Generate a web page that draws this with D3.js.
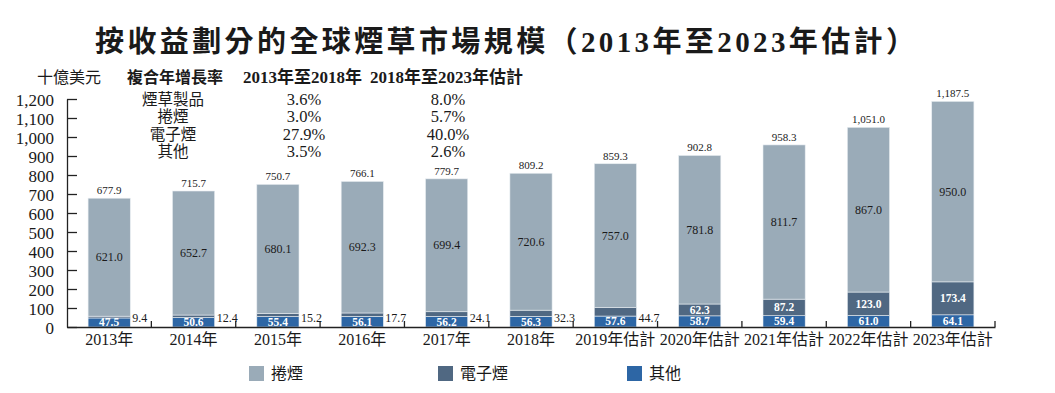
<!DOCTYPE html>
<html>
<head>
<meta charset="utf-8">
<script src="https://cdn.jsdelivr.net/npm/d3@7"></script>
<style>
  body { margin: 0; background: #fff; }
  text { font-family: "Liberation Serif", "Noto Sans CJK TC", serif; fill: #1a1a1a; }
</style>
</head>
<body>
<svg id="chart" width="1055" height="393"></svg>
<script>
// data
let years = ['2013年', '2014年', '2015年', '2016年', '2017年', '2018年',
             '2019年估計', '2020年估計', '2021年估計', '2022年估計', '2023年估計'];
let cigarettes = [621.0, 652.7, 680.1, 692.3, 699.4, 720.6, 757.0, 781.8, 811.7, 867.0, 950.0];
let ecig = [9.4, 12.4, 15.2, 17.7, 24.1, 32.3, 44.7, 62.3, 87.2, 123.0, 173.4];
let other = [47.5, 50.6, 55.4, 56.1, 56.2, 56.3, 57.6, 58.7, 59.4, 61.0, 64.1];
let totals = [677.9, 715.7, 750.7, 766.1, 779.7, 809.2, 859.3, 902.8, 958.3, 1051.0, 1187.5];
let yTicks = [0, 100, 200, 300, 400, 500, 600, 700, 800, 900, 1000, 1100, 1200];

let seriesNames = ['其他', '電子煙', '捲煙'];
let legendNames = ['捲煙', '電子煙', '其他'];
let colors = {'捲煙': '#9aabb8', '電子煙': '#506882', '其他': '#2d66a5'};

let cagrRows = ['煙草製品', '捲煙', '電子煙', '其他'];
let cagr1318 = ['3.6%', '3.0%', '27.9%', '3.5%'];
let cagr1823 = ['8.0%', '5.7%', '40.0%', '2.6%'];

let table = years.map(function(y, i) {
    return {year: y, '其他': other[i], '電子煙': ecig[i], '捲煙': cigarettes[i], total: totals[i]};
});

let svg = d3.select('#chart');
let plotLeft = 67, plotRight = 995, plotTop = 99, plotBottom = 327;

let x = d3.scaleBand().domain(years).range([plotLeft, plotRight]).paddingInner(0.5).paddingOuter(0.25);
let xb = d3.scaleBand().domain(years).range([plotLeft, plotRight]);
let y = d3.scaleLinear().domain([0, 1200]).range([plotBottom, plotTop]);

// title
svg.append('text')
    .attr('x', 95).attr('y', 52)
    .attr('textLength', 820).attr('lengthAdjust', 'spacing')
    .style('font-size', '29px').style('font-weight', 'bold')
    .text('按收益劃分的全球煙草市場規模（2013年至2023年估計）');

// y axis
let yAxis = d3.axisLeft(y).tickValues(yTicks).tickFormat(d3.format(',')).tickSizeInner(-10).tickSizeOuter(0).tickPadding(13);
let gy = svg.append('g').attr('transform', 'translate(' + plotLeft + ',0)').call(yAxis);
gy.selectAll('text').style('font-size', '17px').attr('dy', '0.36em');
gy.selectAll('line, path').attr('stroke', '#222').attr('stroke-width', 1.3);

svg.append('text').attr('x', 37).attr('y', 83).style('font-size', '16px').text('十億美元');

// CAGR table
svg.append('text').attr('x', 127).attr('y', 83).style('font-size', '16px').style('font-weight', 'bold').text('複合年增長率');
svg.append('text').attr('x', 243).attr('y', 83).style('font-size', '17px').style('font-weight', 'bold').text('2013年至2018年');
svg.append('text').attr('x', 370).attr('y', 83).style('font-size', '17px').style('font-weight', 'bold').text('2018年至2023年估計');
let rowY = d3.scalePoint().domain(cagrRows).range([105, 157]);
let tbl = svg.append('g').selectAll('g').data(cagrRows).enter().append('g');
tbl.append('text').attr('x', 173).attr('y', function(d) { return rowY(d); })
    .attr('text-anchor', 'middle').style('font-size', '15.5px').text(function(d) { return d; });
tbl.append('text').attr('x', 304).attr('y', function(d) { return rowY(d); })
    .attr('text-anchor', 'middle').style('font-size', '16.5px').text(function(d, i) { return cagr1318[i]; });
tbl.append('text').attr('x', 448).attr('y', function(d) { return rowY(d); })
    .attr('text-anchor', 'middle').style('font-size', '16.5px').text(function(d, i) { return cagr1823[i]; });

// bars
let stack = d3.stack().keys(seriesNames);
let layers = stack(table);
let fmt = d3.format(',.1f');

svg.append('g').selectAll('g').data(layers).enter().append('g')
    .attr('fill', function(d) { return colors[d.key]; })
    .selectAll('rect').data(function(d) { return d; }).enter().append('rect')
    .attr('x', function(d) { return x(d.data.year); })
    .attr('width', x.bandwidth())
    .attr('y', function(d) { return y(d[1]); })
    .attr('height', function(d) { return y(d[0]) - y(d[1]); })
    .attr('stroke', '#e8edf1').attr('stroke-width', 0.6);

// value labels
let labels = svg.append('g');
layers.forEach(function(layer) {
    layer.forEach(function(d) {
        let v = d.data[layer.key];
        let cx = x(d.data.year) + x.bandwidth() / 2;
        let h = y(d[0]) - y(d[1]);
        if (layer.key === '電子煙' && h < 10) {
            labels.append('text')
                .attr('x', x(d.data.year) + x.bandwidth() + 2)
                .attr('y', y(0) - 5)
                .style('font-size', '12px')
                .text(fmt(v));
        } else {
            let white = layer.key !== '捲煙';
            labels.append('text')
                .attr('x', cx).attr('y', (y(d[0]) + y(d[1])) / 2)
                .attr('dy', '0.34em')
                .attr('text-anchor', 'middle')
                .style('font-size', white ? '11.5px' : '12px')
                .style('font-weight', white ? 'bold' : 'normal')
                .style('fill', white ? '#fff' : '#1a1a1a')
                .text(fmt(v));
        }
    });
});
labels.selectAll(null).data(table).enter().append('text')
    .attr('x', function(d) { return x(d.year) + x.bandwidth() / 2; })
    .attr('y', function(d) { return y(d.total) - 4; })
    .attr('text-anchor', 'middle')
    .style('font-size', '11px')
    .text(function(d) { return fmt(d.total); });

// x axis
let xAxis = d3.axisBottom(xb).tickSize(0).tickPadding(6);
let gx = svg.append('g').attr('transform', 'translate(0,' + plotBottom + ')').call(xAxis);
gx.select('.domain').attr('stroke', '#222').attr('stroke-width', 1.3);
gx.selectAll('text').style('font-size', '16px').attr('dy', '0.75em');
gx.selectAll('.sep').data(years).enter().append('line')
    .attr('class', 'sep')
    .attr('x1', function(d) { return xb(d) + xb.bandwidth(); })
    .attr('x2', function(d) { return xb(d) + xb.bandwidth(); })
    .attr('y1', 0).attr('y2', -6)
    .attr('stroke', '#222').attr('stroke-width', 1.3);

// legend
let lx = d3.scalePoint().domain(legendNames).range([249, 627]);
let lg = svg.append('g').selectAll('g').data(legendNames).enter().append('g')
    .attr('transform', function(d) { return 'translate(' + lx(d) + ',366)'; });
lg.append('rect').attr('width', 15).attr('height', 15).attr('fill', function(d) { return colors[d]; });
lg.append('text').attr('x', 22).attr('y', 13).style('font-size', '16px').text(function(d) { return d; });
</script>
</body>
</html>
